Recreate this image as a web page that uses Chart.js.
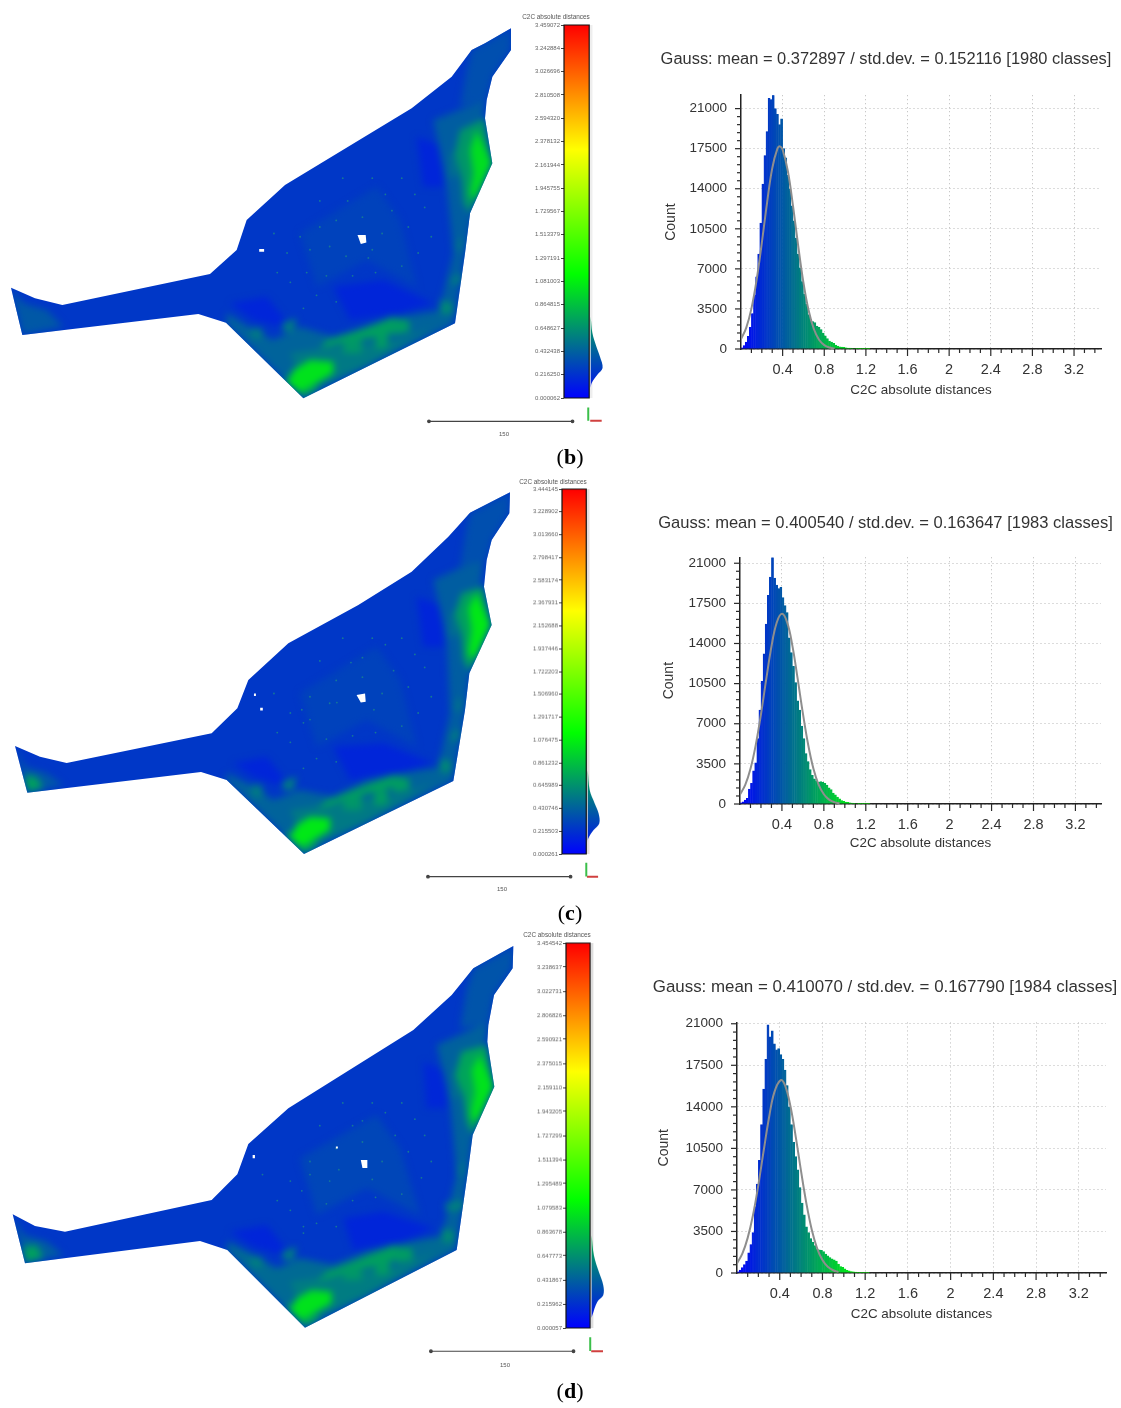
<!DOCTYPE html>
<html>
<head>
<meta charset="utf-8">
<style>
html,body{margin:0;padding:0;background:#fff;overflow:hidden}
#page{position:relative;width:1121px;height:1408px;background:#fff;overflow:hidden;filter:blur(0.35px)}
canvas{position:absolute;display:block}
.lab{position:absolute;white-space:nowrap;transform:translate(-50%,-50%);color:#555;font-family:"Liberation Sans",sans-serif}
.cap{font-family:"Liberation Serif",serif;color:#000}
</style>
</head>
<body>
<div id="page"></div>
<script src="https://cdn.jsdelivr.net/npm/chart.js@4"></script>
<script>
// ---------- histogram: counts per 0.02-wide class, starting at 0 ----------
const countsB = [100,300,600,1100,1900,3100,4700,6300,8300,11000,14400,16900,19000,21900,21800,22200,21000,20500,19600,20100,17500,16700,15200,14000,12500,11200,9700,8300,7100,5900,4800,3900,3000,2600,2400,2300,2000,1900,1700,1400,1150,900,700,600,500,350,250,200,170,140,110,90,70,50,40,30,20,15,10,10,5,5];
const countsC = [100,200,350,500,1300,1800,2900,3600,5700,8200,10700,13100,15700,18200,19800,21500,19700,19100,18800,18900,18000,17300,16700,14500,13200,12000,10600,9000,8200,6800,5700,4400,3700,3000,2500,2200,2000,1900,1950,1900,1800,1650,1400,1250,950,800,600,450,300,230,170,140,110,80,60,40,30,20,15,10,5,5];
const countsD = [100,250,450,700,1000,1700,2400,3400,5600,7500,9500,12500,15500,18000,20900,19900,20400,19300,18800,18900,18400,18000,17100,15800,14000,12500,11000,9800,8700,7200,5900,4900,3900,3400,2900,2600,2300,2000,1950,1900,1800,1600,1450,1300,1200,1100,1000,750,550,480,350,230,180,130,100,70,50,30,20,15,10,5];
// ---------- fitted curves ----------
const gaussXB = [0,0.05,0.1,0.15,0.2,0.25,0.3,0.35,0.375,0.4,0.45,0.5,0.55,0.6,0.65,0.7,0.75,0.8,0.85,0.9];
const gaussYB = [870,1850,3530,6040,9260,12750,15780,17500,17700,17420,15550,12470,8990,5800,3360,1750,810,340,130,50];
const gaussXC = [0,0.05,0.1,0.15,0.2,0.25,0.3,0.35,0.4,0.45,0.5,0.55,0.6,0.65,0.7,0.75,0.8,0.85,0.9,0.95];
const gaussYC = [830,1660,3070,5140,7830,10870,13740,15810,16590,15840,13790,10930,7900,5190,3100,1690,850,380,160,60];
const gaussXD = [0,0.05,0.1,0.15,0.2,0.25,0.3,0.35,0.41,0.45,0.5,0.55,0.6,0.65,0.7,0.75,0.8,0.85,0.9,0.95];
const gaussYD = [820,1625,2960,4890,7430,10320,13100,15240,16250,15800,14070,11470,8560,5850,3650,2080,1090,520,230,90];
// ---------- axis ticks ----------
const xMajorTicks = [0.4,0.8,1.2,1.6,2,2.4,2.8,3.2];
const xMinorTicks = [0.1,0.2,0.3,0.5,0.6,0.7,0.9,1,1.1,1.3,1.4,1.5,1.7,1.8,1.9,2.1,2.2,2.3,2.5,2.6,2.7,2.9,3,3.1,3.3,3.4];
const yMajorTicks = [0,3500,7000,10500,14000,17500,21000];
const yMinorTicks = [700,1400,2100,2800,4200,4900,5600,6300,7700,8400,9100,9800,11200,11900,12600,13300,14700,15400,16100,16800,18200,18900,19600,20300];
const titleB = "Gauss: mean = 0.372897 / std.dev. = 0.152116 [1980 classes]";
const titleC = "Gauss: mean = 0.400540 / std.dev. = 0.163647 [1983 classes]";
const titleD = "Gauss: mean = 0.410070 / std.dev. = 0.167790 [1984 classes]";
// ---------- colour scales ----------
const scaleLabelsB = ["3.459072","3.242884","3.026696","2.810508","2.594320","2.378132","2.161944","1.945755","1.729567","1.513379","1.297191","1.081003","0.864815","0.648627","0.432438","0.216250","0.000062"];
const scaleLabelsC = ["3.444145","3.228902","3.013660","2.798417","2.583174","2.367931","2.152688","1.937446","1.722203","1.506960","1.291717","1.076475","0.861232","0.645989","0.430746","0.215503","0.000261"];
const scaleLabelsD = ["3.454542","3.238637","3.022731","2.806826","2.590921","2.375015","2.159110","1.943205","1.727299","1.511394","1.295489","1.079583","0.863678","0.647773","0.431867","0.215962","0.000057"];
const profileVB = [0.756,0.602,0.478,0.385,0.278,0.216,0.139,0.093];
const profileWB = [0,1.7,5.7,9.3,12,6.7,1,0];
const profileVC = [0.793,0.604,0.479,0.384,0.29,0.227,0.148,0.11];
const profileWC = [0,2,7,11,11.7,6,0.5,0];
const profileVD = [0.833,0.653,0.503,0.384,0.294,0.234,0.114,0.09];
const profileWD = [0,2.3,7.3,11.7,11.7,5.7,0.7,0];
// ---------- maps: outlines in map units ----------
const outlineB = [[33,803],[105,835],[187,855],[630,762],[710,690],[740,600],[855,495],[1235,265],[1355,170],[1415,90],[1455,70],[1533,25],[1533,90],[1477,170],[1460,240],[1455,295],[1477,430],[1410,580],[1395,700],[1365,910],[910,1135],[678,908],[595,882],[67,945]];
const outlineC = [[45,798],[120,830],[200,849],[635,760],[712,685],[745,600],[865,490],[1075,375],[1235,275],[1345,170],[1410,98],[1530,37],[1528,100],[1475,180],[1460,240],[1452,320],[1475,435],[1408,580],[1395,690],[1360,903],[912,1122],[680,900],[603,876],[82,938]];
const outlineD = [[38,838],[105,873],[195,890],[635,795],[712,718],[745,627],[865,520],[1240,285],[1355,180],[1420,100],[1540,33],[1538,100],[1482,180],[1465,270],[1462,320],[1483,455],[1418,600],[1405,700],[1370,945],[915,1178],[682,945],[600,918],[75,985]];
// patches: distance level and outline in map units
const patchLevelsB = [0.3,0.17,0.17,0.17,0.42,0.36,0.45,0.4,0.55,0.72,0.7,0.7,0.68,0.56,0.56,0.62,0.55,0.5,0.5,0.72,0.68,1.02,1.0];
const patchShapesB = [
 [[900,640],[1130,500],[1200,600],[1250,800],[1100,720],[950,800]],
 [[1000,800],[1150,780],[1300,850],[1200,880],[1050,900]],
 [[690,850],[800,830],[880,930],[760,900]],
 [[1250,350],[1330,380],[1330,500],[1270,500]],
 [[1300,300],[1455,240],[1420,570],[1395,700],[1365,900],[1315,880],[1360,700],[1340,500]],
 [[1415,90],[1533,25],[1533,90],[1477,170],[1460,240],[1380,260],[1400,150]],
 [[680,880],[760,930],[820,960],[900,920],[1000,950],[1100,920],[1200,890],[1330,870],[1365,910],[910,1135],[680,910]],
 [[33,803],[67,945],[190,920],[140,870],[70,850]],
 [[870,1000],[1000,980],[1200,960],[1300,920],[1100,1040],[920,1110]],
 [[960,985],[1060,960],[1150,950],[1230,915],[1180,890],[1060,935],[980,960]],
 [[1170,895],[1225,900],[1230,935],[1180,945]],
 [[1130,950],[1165,945],[1160,985],[1125,985]],
 [[1030,965],[1085,955],[1085,1000],[1030,1000]],
 [[845,910],[890,895],[880,935],[850,935]],
 [[750,925],[785,925],[790,955],[755,955]],
 [[1320,840],[1360,850],[1355,885],[1320,880]],
 [[1355,770],[1390,760],[1385,790],[1350,795]],
 [[1370,660],[1395,650],[1385,700],[1365,690]],
 [[1350,400],[1380,390],[1370,470],[1345,470]],
 [[850,1075],[910,1135],[960,1105],[890,1070]],
 [[1455,295],[1477,430],[1410,580],[1390,550],[1385,480],[1365,400],[1380,330]],
 [[860,1090],[880,1050],[930,1020],[1000,1025],[1000,1060],[950,1090],[900,1115]],
 [[1430,330],[1478,430],[1425,545],[1410,520],[1420,460],[1410,390]]
];
const patchLevelsC = [0.3,0.17,0.17,0.17,0.42,0.36,0.45,0.4,0.72,0.55,0.72,0.7,0.7,0.68,0.56,0.56,0.62,0.55,0.5,0.5,0.72,0.72,1.05,1.05];
const patchShapesC = [
 [[900,640],[1130,500],[1200,600],[1250,800],[1100,720],[950,800]],
 [[1000,800],[1150,790],[1300,850],[1200,880],[1050,900]],
 [[700,850],[800,830],[880,930],[760,890]],
 [[1250,350],[1330,380],[1330,500],[1270,500]],
 [[1300,300],[1452,230],[1410,570],[1395,700],[1360,900],[1310,880],[1350,700],[1340,480]],
 [[1410,98],[1530,37],[1528,100],[1475,180],[1460,240],[1380,260],[1400,140]],
 [[680,880],[760,920],[820,960],[900,930],[1000,950],[1100,900],[1200,880],[1330,860],[1360,903],[912,1122],[680,900]],
 [[45,798],[82,938],[190,915],[140,880],[75,860]],
 [[70,885],[82,938],[130,925],[110,890]],
 [[870,990],[1000,970],[1200,945],[1300,910],[1100,1030],[920,1100]],
 [[950,990],[1060,950],[1150,930],[1230,900],[1180,885],[1060,930],[980,960]],
 [[1170,890],[1225,895],[1230,930],[1180,940]],
 [[1125,935],[1165,930],[1160,975],[1120,975]],
 [[1030,955],[1085,945],[1085,990],[1030,990]],
 [[845,905],[890,890],[880,930],[850,930]],
 [[755,915],[785,915],[790,950],[755,950]],
 [[1320,835],[1355,845],[1350,880],[1320,875]],
 [[1355,755],[1385,745],[1380,780],[1350,785]],
 [[1365,660],[1392,650],[1385,700],[1360,690]],
 [[1350,400],[1380,390],[1370,470],[1345,470]],
 [[850,1060],[912,1122],[960,1095],[890,1060]],
 [[1450,320],[1475,435],[1410,575],[1390,540],[1385,470],[1365,400],[1385,340]],
 [[870,1070],[890,1035],[930,1010],[990,1015],[990,1050],[950,1075],[905,1100]],
 [[1430,340],[1472,435],[1425,540],[1405,520],[1415,450],[1405,385]]
];
const patchLevelsD = [0.32,0.17,0.17,0.18,0.44,0.38,0.48,0.42,0.72,0.56,0.72,0.7,0.7,0.68,0.56,0.58,0.62,0.58,0.5,0.5,0.72,0.74,1.02,1.02];
const patchShapesD = [
 [[900,670],[1130,540],[1200,640],[1260,840],[1100,760],[950,840]],
 [[1030,850],[1150,830],[1300,880],[1210,920],[1060,945]],
 [[690,890],[800,870],[880,970],[760,935]],
 [[1270,380],[1340,410],[1340,520],[1280,520]],
 [[1310,330],[1465,260],[1420,590],[1405,700],[1370,940],[1320,920],[1370,720],[1350,500]],
 [[1420,100],[1540,33],[1538,100],[1482,180],[1465,270],[1380,280],[1400,160]],
 [[682,920],[760,960],[830,1000],[900,970],[1000,990],[1100,950],[1210,925],[1340,900],[1370,945],[915,1178],[682,945]],
 [[38,838],[75,985],[190,960],[140,920],[70,900]],
 [[68,935],[75,985],[130,970],[110,930]],
 [[870,1040],[1000,1020],[1200,995],[1310,950],[1100,1085],[920,1155]],
 [[950,1040],[1060,1005],[1150,990],[1230,950],[1180,930],[1060,980],[980,1010]],
 [[1180,935],[1235,940],[1240,975],[1190,985]],
 [[1130,985],[1170,980],[1165,1020],[1125,1020]],
 [[1030,1005],[1085,995],[1085,1035],[1030,1035]],
 [[845,950],[890,935],[880,975],[850,975]],
 [[750,965],[785,965],[790,995],[755,995]],
 [[1325,880],[1365,890],[1360,925],[1325,920]],
 [[1335,805],[1395,795],[1390,825],[1340,830]],
 [[1372,690],[1400,680],[1395,730],[1368,720]],
 [[1360,420],[1390,410],[1380,490],[1355,490]],
 [[855,1110],[915,1178],[965,1150],[890,1110]],
 [[1460,330],[1483,455],[1418,600],[1400,560],[1390,480],[1365,420],[1385,350]],
 [[870,1125],[890,1090],[935,1065],[995,1070],[995,1105],[950,1130],[905,1155]],
 [[1440,360],[1482,455],[1430,565],[1412,540],[1425,470],[1415,405]]
];
const holesB = [[[1075,645],[1100,645],[1102,668],[1085,672]],[[775,688],[790,688],[790,696],[775,696]]];
const holesC = [[[1072,645],[1098,640],[1100,665],[1085,668]],[[759,640],[765,640],[765,648],[759,648]],[[778,684],[786,684],[786,692],[778,692]]];
const holesD = [[[1085,675],[1105,675],[1105,700],[1090,700]],[[755,660],[762,660],[762,670],[755,670]],[[1009,634],[1015,634],[1015,640],[1009,640]]];
// fine speckle seen across the centre of each map, in map units
const speckleB = [[1045,540],[1010,600],[960,620],[900,650],[930,690],[860,700],[820,640],[990,680],[1040,710],[1120,690],[1108,715],[1150,640],[1180,570],[1230,620],[1260,700],[1210,740],[1130,760],[1060,770],[980,770],[920,760],[870,790],[830,760],[950,830],[1010,850],[910,870],[1160,520],[1210,470],[1120,470],[1280,560],[1300,650],[1250,520],[1090,590],[960,540],[1030,470]];
const speckleC = [[1055,545],[1090,530],[1010,600],[930,650],[905,690],[930,720],[870,700],[820,640],[990,670],[1012,668],[1125,690],[1150,640],[1185,570],[1230,620],[1260,700],[1210,740],[1130,760],[1060,770],[980,780],[910,730],[870,790],[830,760],[950,840],[1010,850],[910,870],[1160,490],[1210,470],[1120,470],[1280,560],[1300,650],[1250,520],[1090,590],[960,540],[1030,470]];
const speckleD = [[1060,570],[1090,555],[1010,640],[930,680],[905,770],[930,720],[870,740],[785,720],[990,740],[1018,705],[1120,735],[1150,680],[1190,600],[1230,650],[1270,730],[1210,780],[1130,790],[1060,800],[980,810],[910,880],[870,830],[830,800],[950,870],[1010,880],[910,900],[1160,530],[1210,500],[1120,500],[1280,600],[1300,680],[1250,550],[1090,620],[960,570],[1030,500]];
// ---------- scale bar & axes icon in map units ----------
const barB = [[1293,1217],[1731,1217]], greenB = [[1779,1175],[1779,1215]], redB = [[1785,1215],[1820,1215]];
const barC = [[1290,1203],[1725,1203]], greenC = [[1773,1160],[1773,1202]], redC = [[1775,1203],[1809,1203]];
const barD = [[1299,1263],[1734,1263]], greenD = [[1785,1220],[1785,1262]], redD = [[1788,1263],[1824,1263]];

const FONT = '"Liberation Sans", Arial, sans-serif';
const page = document.getElementById('page');
Chart.defaults.animation = false;
Chart.defaults.responsive = false;
Chart.defaults.devicePixelRatio = 1;

function cm(v, vmax){
  const t = Math.min(1, Math.max(0, v / vmax)) * 3;
  let r, g, b;
  if (t < 1) { r = 0; g = 255 * t; b = 255 * (1 - t); }
  else if (t < 2) { r = 255 * (t - 1); g = 255; b = 0; }
  else { r = 255; g = 255 * (3 - t); b = 0; }
  return `rgb(${r|0},${g|0},${b|0})`;
}
function mk(l, t, w, h, parent){
  const c = document.createElement('canvas');
  c.width = w; c.height = h;
  c.style.left = l + 'px'; c.style.top = t + 'px';
  c.style.width = w + 'px'; c.style.height = h + 'px';
  (parent || page).appendChild(c);
  return c;
}
function label(text, x, y, size, cls){
  const d = document.createElement('div');
  d.className = cls || 'lab';
  d.style.cssText += `left:${x}px;top:${y}px;font-size:${size}px;position:absolute;white-space:nowrap;transform:translate(-50%,-50%)`;
  d.innerHTML = text;
  page.appendChild(d);
}

const tickPlugin = {
  id: 'qwtTicks',
  afterDraw(chart){
    const {ctx, scales:{x, y}} = chart;
    ctx.save();
    ctx.strokeStyle = '#2a2a2a'; ctx.lineWidth = 1.2;
    const seg = (a,b,c,d)=>{ctx.beginPath();ctx.moveTo(a,b);ctx.lineTo(c,d);ctx.stroke();};
    xMajorTicks.forEach(v=>{const p=x.getPixelForValue(v);seg(p,y.bottom,p,y.bottom+7);});
    xMinorTicks.forEach(v=>{ if(v<=x.max){const p=x.getPixelForValue(v);seg(p,y.bottom,p,y.bottom+4);} });
    yMajorTicks.forEach(v=>{const p=y.getPixelForValue(v);seg(x.left,p,x.left-6,p);});
    yMinorTicks.forEach(v=>{const p=y.getPixelForValue(v);seg(x.left,p,x.left-4,p);});
    ctx.restore();
  }
};

function histogram(cfg){
  const {L,R,T,B,tcx,tcy,countx,xlaby,ymax,xmax,counts,gx,gy,title,tsize} = cfg;
  const cl = 640;
  const cw = 2*(tcx-cl);
  const ctop = tcy - tsize/2;
  const cbottom = xlaby + 15;
  const canvas = mk(cl, ctop, cw, cbottom-ctop);
  const bars = counts.map((c,i)=>({x:0.01+0.02*i, y:c}));
  const cols = counts.map((c,i)=>cm(0.01+0.02*i, xmax));
  new Chart(canvas, {
    type:'bar',
    data:{datasets:[
      {type:'line', data:gx.map((v,i)=>({x:v,y:gy[i]})), borderColor:'#8e8e8e', borderWidth:2, pointRadius:0, tension:0.4, order:0, fill:false},
      {type:'bar', data:bars, backgroundColor:cols, borderColor:cols, borderWidth:0.6, barPercentage:1, categoryPercentage:1, order:1}
    ]},
    options:{
      layout:{padding:0},
      plugins:{
        legend:{display:false}, tooltip:{enabled:false},
        title:{display:true,text:title,color:'#333',font:{family:FONT,size:tsize,weight:'normal',lineHeight:1},padding:{top:0,bottom:T-ctop-tsize}}
      },
      scales:{
        x:{type:'linear',min:0,max:xmax,offset:false,
           afterBuildTicks:s=>{s.ticks=xMajorTicks.map(value=>({value}));},
           afterFit:s=>{s.height=cbottom-B;},
           grid:{offset:false,drawTicks:false,color:'#b9b9b9',lineWidth:1},
           border:{color:'#222',width:1.5,dash:[1,3]},
           ticks:{autoSkip:false,maxRotation:0,padding:12,color:'#333',font:{family:FONT,size:14.5},callback:v=>String(v)},
           title:{display:true,text:'C2C absolute distances',color:'#333',font:{family:FONT,size:13.4,lineHeight:1},padding:{top:0,bottom:8}}},
        y:{type:'linear',min:0,max:ymax,
           afterBuildTicks:s=>{s.ticks=yMajorTicks.map(value=>({value}));},
           afterFit:s=>{s.width=L-cl;},
           grid:{drawTicks:false,color:'#b9b9b9',lineWidth:1},
           border:{color:'#222',width:1.5,dash:[1,3]},
           ticks:{padding:14,color:'#333',font:{family:FONT,size:13.5},autoSkip:false,callback:v=>String(v)},
           title:{display:true,text:'Count',color:'#333',font:{family:FONT,size:14,lineHeight:1},padding:{top:countx-cl-7,bottom:0}}},
        yRight:{type:'linear',position:'right',axis:'y',min:0,max:ymax,
           grid:{display:false,drawTicks:false},border:{display:false},ticks:{display:false},
           afterFit:s=>{s.width=cl+cw-R;}}
      }
    },
    plugins:[tickPlugin]
  });
}

function colourbar(cfg){
  const {x0,x1,y0,y1,labels,pv,pw,band} = cfg;
  const cl = x0-50, ct = y0-8, cw = x1-x0+70, ch = y1-y0+16;
  const canvas = mk(cl,ct,cw,ch);
  const vals = labels.map(Number);
  const vmax = vals[0], vmin = vals[vals.length-1];
  const w = x1-x0;
  const g = canvas.getContext('2d').createLinearGradient(0,ch-8,0,8);
  g.addColorStop(0,'rgb(0,0,255)');g.addColorStop(1/3,'rgb(0,255,0)');g.addColorStop(2/3,'rgb(255,255,0)');g.addColorStop(1,'rgb(255,0,0)');
  new Chart(canvas,{
    type:'scatter',
    data:{datasets:[
      {data:pv.map((v,i)=>({x:pw[i]+1.5,y:v})),showLine:true,fill:'shape',backgroundColor:g,borderWidth:0,pointRadius:0,tension:0.35},
      {data:[{x:2,y:vmax},{x:2,y:vmin}],showLine:true,borderColor:band,borderWidth:2.5,pointRadius:0},
      {data:[{x:-w,y:vmin},{x:0,y:vmin},{x:0,y:vmax},{x:-w,y:vmax},{x:-w,y:vmin}],showLine:true,fill:'shape',backgroundColor:g,borderColor:'#111',borderWidth:1.2,pointRadius:0,clip:4}
    ]},
    options:{
      layout:{padding:{left:0,right:0,top:8,bottom:8}},
      plugins:{legend:{display:false},tooltip:{enabled:false}},
      scales:{
        x:{type:'linear',display:true,min:-w,max:20,
           ticks:{display:false},grid:{display:false,drawTicks:false},border:{display:false},afterFit:s=>{s.height=0;}},
        y:{type:'linear',min:vmin,max:vmax,
           afterBuildTicks:s=>{s.ticks=vals.map(value=>({value}));},
           afterFit:s=>{s.width=50;},
           grid:{drawOnChartArea:false,tickLength:3,tickColor:'#444',tickWidth:1},border:{display:false},
           ticks:{autoSkip:false,padding:1,color:'#666',font:{family:FONT,size:6},callback:(v,i)=>labels[i]}}
      }
    }
  });
}

function polyDataset(pts,color){
  return {data:pts.map(p=>({x:p[0],y:p[1]})),showLine:true,fill:'shape',backgroundColor:color,borderWidth:0,pointRadius:0};
}
function segDataset(pts,color,w,r){
  return {data:pts.map(p=>({x:p[0],y:p[1]})),showLine:true,fill:false,borderColor:color,backgroundColor:color,borderWidth:w,pointRadius:r||0};
}
function mapOptions(){
  return {layout:{padding:0},plugins:{legend:{display:false},tooltip:{enabled:false}},
    scales:{x:{type:'linear',display:false,min:0,max:1860},y:{type:'linear',display:false,min:0,max:1320,reverse:true}}};
}
function map(cfg){
  const {top,outline,levels,shapes,holes,speckle,bar,green,red,blur} = cfg;
  const W=620,H=440;
  new Chart(mk(0,top,W,H),{type:'scatter',data:{datasets:[polyDataset(outline,cm(0.25,3.45))]},options:mapOptions()});
  const wrap = document.createElement('div');
  wrap.style.cssText = `position:absolute;left:0;top:${top}px;width:${W}px;height:${H}px;clip-path:polygon(${outline.map(p=>(p[0]/3)+'px '+(p[1]/3)+'px').join(',')})`;
  page.appendChild(wrap);
  const pc = mk(0,0,W,H,wrap);
  pc.style.filter = `blur(${blur}px)`;
  new Chart(pc,{type:'scatter',data:{datasets:shapes.map((s,i)=>polyDataset(s,cm(levels[i],3.45))).reverse()},options:mapOptions()});
  new Chart(mk(0,top,W,H),{type:'scatter',data:{datasets:[
    ...holes.map(h=>polyDataset(h,'#fff')),
    {data:speckle.map(p=>({x:p[0],y:p[1]})),pointRadius:0.9,pointBorderWidth:0,backgroundColor:'rgb(20,120,150)',showLine:false},
    segDataset(bar,'#444',1.2,1.3),segDataset(green,'#3bbf4a',2),segDataset(red,'#d0403f',2)
  ]},options:mapOptions()});
}

histogram({L:741,R:1101,T:95,B:349,tcx:886,tcy:59,countx:671,xlaby:390,ymax:22170,xmax:3.459,counts:countsB,gx:gaussXB,gy:gaussYB,title:titleB,tsize:16.45});
histogram({L:740,R:1101,T:557,B:804,tcx:885.5,tcy:523,countx:669,xlaby:843,ymax:21520,xmax:3.444,counts:countsC,gx:gaussXC,gy:gaussYC,title:titleC,tsize:16.55});
histogram({L:737,R:1106,T:1022,B:1273,tcx:885,tcy:987,countx:664,xlaby:1314,ymax:21110,xmax:3.4545,counts:countsD,gx:gaussXD,gy:gaussYD,title:titleD,tsize:16.9});

colourbar({x0:563.5,x1:589,y0:24.7,y1:398.3,labels:scaleLabelsB,pv:profileVB,pw:profileWB,band:'#eeeeee'});
colourbar({x0:561.7,x1:586.3,y0:489.3,y1:854,labels:scaleLabelsC,pv:profileVC,pw:profileWC,band:'#e6dede'});
colourbar({x0:565.7,x1:590,y0:943.3,y1:1327.7,labels:scaleLabelsD,pv:profileVD,pw:profileWD,band:'#dddddd'});

map({top:20,outline:outlineB,levels:patchLevelsB,shapes:patchShapesB,holes:holesB,speckle:speckleB,bar:barB,green:greenB,red:redB,blur:3.5});
map({top:480,outline:outlineC,levels:patchLevelsC,shapes:patchShapesC,holes:holesC,speckle:speckleC,bar:barC,green:greenC,red:redC,blur:3.5});
map({top:935,outline:outlineD,levels:patchLevelsD,shapes:patchShapesD,holes:holesD,speckle:speckleD,bar:barD,green:greenD,red:redD,blur:3.5});

label('C2C absolute distances',556,16,6.4);
label('C2C absolute distances',553,481,6.4);
label('C2C absolute distances',557,934,6.4);
label('150',504,434,6);
label('150',502,889,6);
label('150',505,1365,6);
label('(<b>b</b>)',570,457,22,'cap');
label('(<b>c</b>)',570,913,22,'cap');
label('(<b>d</b>)',570,1391,22,'cap');
</script>
</body>
</html>
